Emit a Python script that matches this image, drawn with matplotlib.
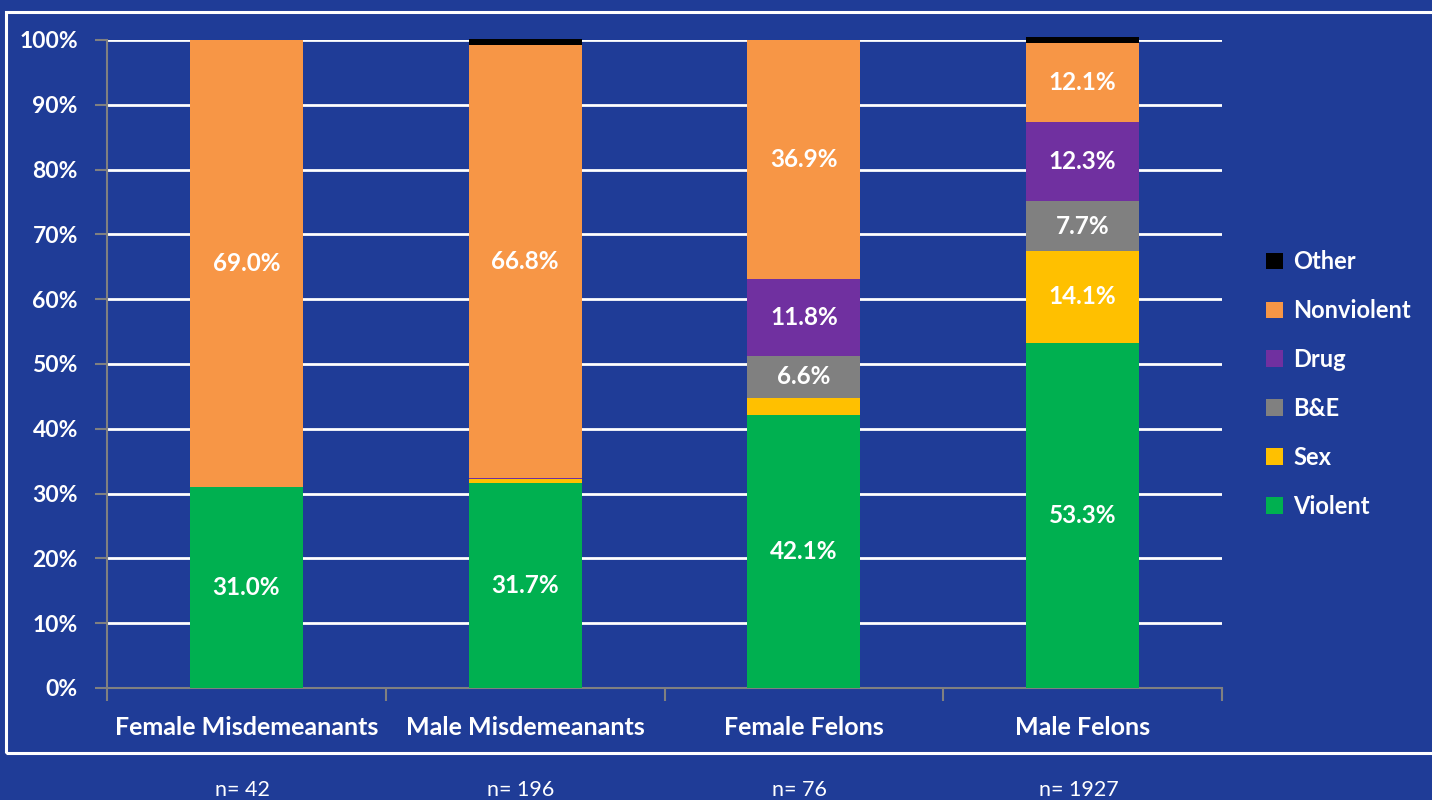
import numpy as np
import matplotlib.pyplot as plt
from matplotlib.patches import Rectangle

plt.rcParams['font.family'] = ['Lato', 'DejaVu Sans']

# categories and counts
groups = ['Female Misdemeanants', 'Male Misdemeanants', 'Female Felons', 'Male Felons']
counts = ['n= 42', 'n= 196', 'n= 76', 'n= 1927']

# percent of each offence type (bottom to top)
violent = [31.0, 31.7, 42.1, 53.3]
sex = [0.0, 0.5, 2.6, 14.1]
bne = [0.0, 0.0, 6.6, 7.7]
drug = [0.0, 0.2, 11.8, 12.3]
nonviolent = [69.0, 66.8, 36.9, 12.1]
other = [0.0, 1.0, 0.0, 1.0]

series = [('Violent', violent, '#00B050'),
          ('Sex', sex, '#FFC000'),
          ('B&E', bne, '#808080'),
          ('Drug', drug, '#7030A0'),
          ('Nonviolent', nonviolent, '#F79646'),
          ('Other', other, '#000000')]

bg = '#1F3C97'
fig = plt.figure(figsize=(14.32, 8), dpi=100, facecolor=bg)
ax = fig.add_axes([107 / 1432, 112 / 800, (1222 - 107) / 1432, 648 / 800])
ax.set_facecolor(bg)

x = np.arange(len(groups))
bottom = np.zeros(len(groups))
handles = []
for name, vals, col in series:
    vals = np.array(vals)
    b = ax.bar(x, vals, width=0.405, bottom=bottom, color=col, label=name,
               zorder=3, clip_on=False)
    handles.append(b)
    for i, v in enumerate(vals):
        if v >= 5:
            ax.text(x[i], bottom[i] + v / 2, f'{v:.1f}%', ha='center', va='center',
                    color='white', fontsize=17.5, fontweight='bold', zorder=4)
    bottom += vals

ax.set_xlim(-0.5, len(groups) - 0.5)
ax.set_ylim(0, 100)
ax.set_yticks(np.arange(0, 101, 10))
ax.set_yticklabels([f'{t}%' for t in range(0, 101, 10)], color='white',
                   fontsize=16.5, fontweight='bold')
ax.grid(axis='y', color='white', linewidth=2, zorder=0)

ax.set_xticks(x)
ax.set_xticklabels(groups, color='white', fontsize=18, fontweight='bold')
ax.tick_params(axis='x', which='major', length=0, pad=20)
ax.set_xticks(np.arange(-0.5, len(groups)), minor=True)
ax.tick_params(axis='x', which='minor', length=9, width=1.5, color='#808080')
ax.tick_params(axis='y', length=9, width=1.5, color='#808080', pad=12)

for s in ['top', 'right']:
    ax.spines[s].set_visible(False)
for s in ['left', 'bottom']:
    ax.spines[s].set_color('#808080')
    ax.spines[s].set_linewidth(1.5)

# n= labels under the frame
for i, c in enumerate(counts):
    ax.text(x[i] - 0.015, -0.157, c, transform=ax.get_xaxis_transform(), ha='center',
            va='center', color='white', fontsize=15.5)

leg = fig.legend(handles[::-1], [s[0] for s in series][::-1], loc='center left',
                 bbox_to_anchor=(1245 / 1432, 1 - 384 / 800), frameon=False,
                 fontsize=17, labelspacing=1.1, handlelength=0.7, handleheight=0.7,
                 handletextpad=0.45)
for t in leg.get_texts():
    t.set_color('white')
    t.set_fontweight('bold')

# white frame round the chart
fig.patches.append(Rectangle((6 / 1432, 1 - 753 / 800), 1.0, (753 - 12) / 800,
                             transform=fig.transFigure, fill=False,
                             edgecolor='white', linewidth=2.2))

fig.savefig('out.png', dpi=100, facecolor=bg)
